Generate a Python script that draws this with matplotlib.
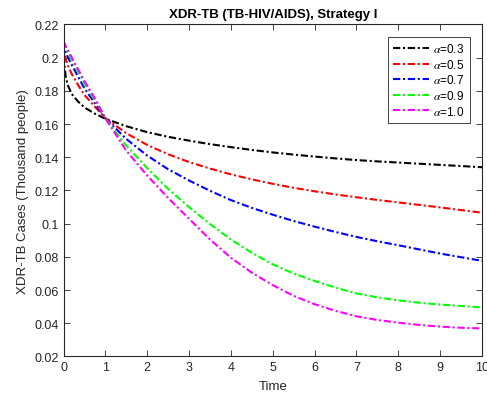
import matplotlib
matplotlib.use("Agg")
import matplotlib.pyplot as plt

plt.rcParams['font.family'] = ['Liberation Sans', 'DejaVu Sans']
plt.rcParams['mathtext.fontset'] = 'stix'

# Time grid and XDR-TB case trajectories for each fractional order
t = [0, 0.02, 0.05, 0.1, 0.2, 0.35, 0.5, 0.75, 1, 1.5, 2, 2.5, 3, 3.5, 4, 4.5,
     5, 5.5, 6, 6.5, 7, 7.5, 8, 8.5, 9, 9.5, 10]

alpha_03 = [0.210, 0.196, 0.189, 0.1835, 0.178, 0.1735, 0.170, 0.1662, 0.1632, 0.1587,
            0.1551, 0.1523, 0.1500, 0.1479, 0.1461, 0.1444, 0.1429, 0.1416, 0.1404,
            0.1393, 0.1383, 0.1375, 0.1368, 0.1361, 0.1354, 0.1347, 0.1340]
alpha_05 = [0.210, 0.204, 0.1995, 0.1955, 0.190, 0.1835, 0.1775, 0.1705, 0.1635, 0.1545,
            0.1474, 0.1418, 0.1371, 0.1332, 0.1297, 0.1267, 0.1240, 0.1216, 0.1195,
            0.1176, 0.1159, 0.1143, 0.1128, 0.1113, 0.1098, 0.1082, 0.1066]
alpha_07 = [0.210, 0.2065, 0.2035, 0.2005, 0.1955, 0.1885, 0.1815, 0.1725, 0.1635, 0.1510,
            0.1410, 0.1328, 0.1260, 0.1198, 0.1142, 0.1095, 0.1054, 0.1016, 0.0982,
            0.0950, 0.0920, 0.0894, 0.0870, 0.0845, 0.0820, 0.0798, 0.0776]
alpha_09 = [0.210, 0.208, 0.206, 0.2035, 0.1985, 0.1915, 0.1845, 0.1745, 0.1635, 0.1470,
            0.1335, 0.1210, 0.1100, 0.0998, 0.0905, 0.0825, 0.0755, 0.0700, 0.0655,
            0.0615, 0.0580, 0.0556, 0.0538, 0.0524, 0.0513, 0.0504, 0.0496]
alpha_10 = [0.210, 0.2088, 0.2072, 0.2048, 0.2000, 0.1930, 0.1860, 0.1755, 0.1635, 0.1440,
            0.1290, 0.1155, 0.1030, 0.0905, 0.0795, 0.0705, 0.0630, 0.0565, 0.0515,
            0.0475, 0.0442, 0.0420, 0.0404, 0.0390, 0.0380, 0.0373, 0.0369]

series = [alpha_03, alpha_05, alpha_07, alpha_09, alpha_10]
labels = [r'$\alpha$=0.3', r'$\alpha$=0.5', r'$\alpha$=0.7', r'$\alpha$=0.9', r'$\alpha$=1.0']
colors = ['black', 'red', 'blue', '#00ff00', 'magenta']

xticks = list(range(0, 11))
yticks = [0.02, 0.04, 0.06, 0.08, 0.1, 0.12, 0.14, 0.16, 0.18, 0.2, 0.22]
ytick_labels = ['0.02', '0.04', '0.06', '0.08', '0.1', '0.12', '0.14', '0.16', '0.18', '0.2', '0.22']

fig = plt.figure(figsize=(4.87, 4.02), dpi=100)
ax = fig.add_axes([0.1304, 0.1107, 0.8593, 0.8261])

for y, lab, c in zip(series, labels, colors):
    ax.plot(t, y, color=c, linewidth=1.5, linestyle=(0, (3.5, 1.3, 1.0, 1.3)), label=lab)

ax.set_xlim(0, 10)
ax.set_ylim(0.02, 0.22)
ax.set_xticks(xticks)
ax.set_yticks(yticks)
ax.set_yticklabels(ytick_labels)

edge = '#262626'
for s in ax.spines.values():
    s.set_color(edge)
    s.set_linewidth(0.8)
ax.tick_params(direction='in', length=4, width=0.6, colors=edge, labelsize=9,
               top=True, right=True, labelcolor=edge)

ax.set_xlabel('Time', fontsize=9.5, color=edge, labelpad=5)
ax.set_ylabel('XDR-TB Cases (Thousand people)', fontsize=9.5, color=edge, labelpad=4)
ax.set_title('XDR-TB (TB-HIV/AIDS), Strategy I', fontsize=9.5, fontweight='bold', pad=5)

leg = ax.legend(loc='upper right', fontsize=8.5, handlelength=3.1, handletextpad=0.3,
                borderaxespad=1.05, labelspacing=0.22, fancybox=False, framealpha=1,
                edgecolor=edge, borderpad=0.45)
leg.get_frame().set_linewidth(0.6)

fig.savefig('out.png', dpi=100)
